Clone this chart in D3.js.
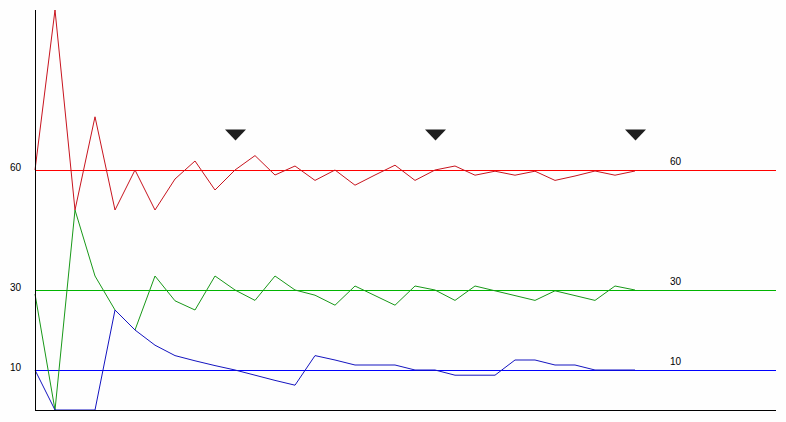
<!DOCTYPE html>
<html>
<head>
<meta charset="utf-8">
<script src="https://cdn.jsdelivr.net/npm/d3@7/dist/d3.min.js"></script>
<style>
html,body{margin:0;padding:0;background:#fefefe;}
svg{display:block;}
text{font-family:"Liberation Sans",Arial,sans-serif;font-size:10px;fill:#000;}
</style>
</head>
<body>
<svg id="chart" width="786" height="422"></svg>
<script>
const steps = d3.range(0, 31);
const redValues = [60,100,50,73.3,50,60,50,57.75,62.25,55,60,63.6,58.75,61,57.4,60,56.2,58.75,61.2,57.4,60,61,58.7,59.7,58.7,59.7,57.4,58.5,59.75,58.7,59.75];
const greenValues = [29,0,50,33.5,25,20,33.5,27.3,25,33.5,30,27.4,33.5,30,28.7,26.2,31,28.6,26.2,31,30,27.4,31,29.8,28.6,27.4,29.8,28.6,27.4,31,30];
const blueValues = [10,0,0,0,25,20,16.2,13.6,12.3,11.1,10,8.7,7.4,6.2,13.6,12.5,11.25,11.25,11.25,10,10,8.7,8.7,8.7,12.5,12.5,11.25,11.25,10,10,10];
const targets = [60, 30, 10];
const targetLabels = ["60", "30", "10"];
const markerSteps = [10, 20, 30];

const seriesColors = ["#c8141e", "#189818", "#1414c0"];
const targetColors = ["#ff0000", "#00b400", "#0000ff"];

const svg = d3.select("#chart");
const x = d3.scaleLinear().domain([0, 30]).range([35, 635]);
const y = d3.scaleLinear().domain([0, 100]).range([410, 10]);
const xEnd = 776;

// target lines
svg.selectAll("line.target").data(targets).enter().append("line")
  .attr("class", "target")
  .attr("x1", x(0)).attr("x2", xEnd)
  .attr("y1", d => Math.round(y(d)) + 0.5).attr("y2", d => Math.round(y(d)) + 0.5)
  .attr("stroke", (d, i) => targetColors[i]).attr("stroke-width", 1)
  .attr("shape-rendering", "crispEdges");

// series
const line = d3.line().x((d, i) => x(i)).y(d => y(d));
[redValues, greenValues, blueValues].forEach((vals, k) => {
  svg.append("path").datum(vals)
    .attr("d", line)
    .attr("fill", "none")
    .attr("stroke", seriesColors[k])
    .attr("stroke-width", 1);
});

// axes
svg.append("line").attr("x1", 35.5).attr("x2", 35.5).attr("y1", y(100)).attr("y2", y(0) + 0.5)
  .attr("stroke", "#000").attr("shape-rendering", "crispEdges");
svg.append("line").attr("x1", 35).attr("x2", xEnd).attr("y1", y(0) + 0.5).attr("y2", y(0) + 0.5)
  .attr("stroke", "#000").attr("shape-rendering", "crispEdges");

// left labels
svg.selectAll("text.left").data(targets).enter().append("text")
  .attr("class", "left")
  .attr("x", 10).attr("y", d => y(d) + 1)
  .text((d, i) => targetLabels[i]);

// right labels
svg.selectAll("text.right").data(targets).enter().append("text")
  .attr("class", "right")
  .attr("x", 670).attr("y", d => y(d) - 5)
  .text((d, i) => targetLabels[i]);

// markers
svg.selectAll("path.marker").data(markerSteps).enter().append("path")
  .attr("class", "marker")
  .attr("d", d => {
    const cx = x(d) + 0.5;
    return `M${cx - 10.5},129.5 L${cx + 10.5},129.5 L${cx},140.5 Z`;
  })
  .attr("fill", "#1e1e1e");
</script>
</body>
</html>
